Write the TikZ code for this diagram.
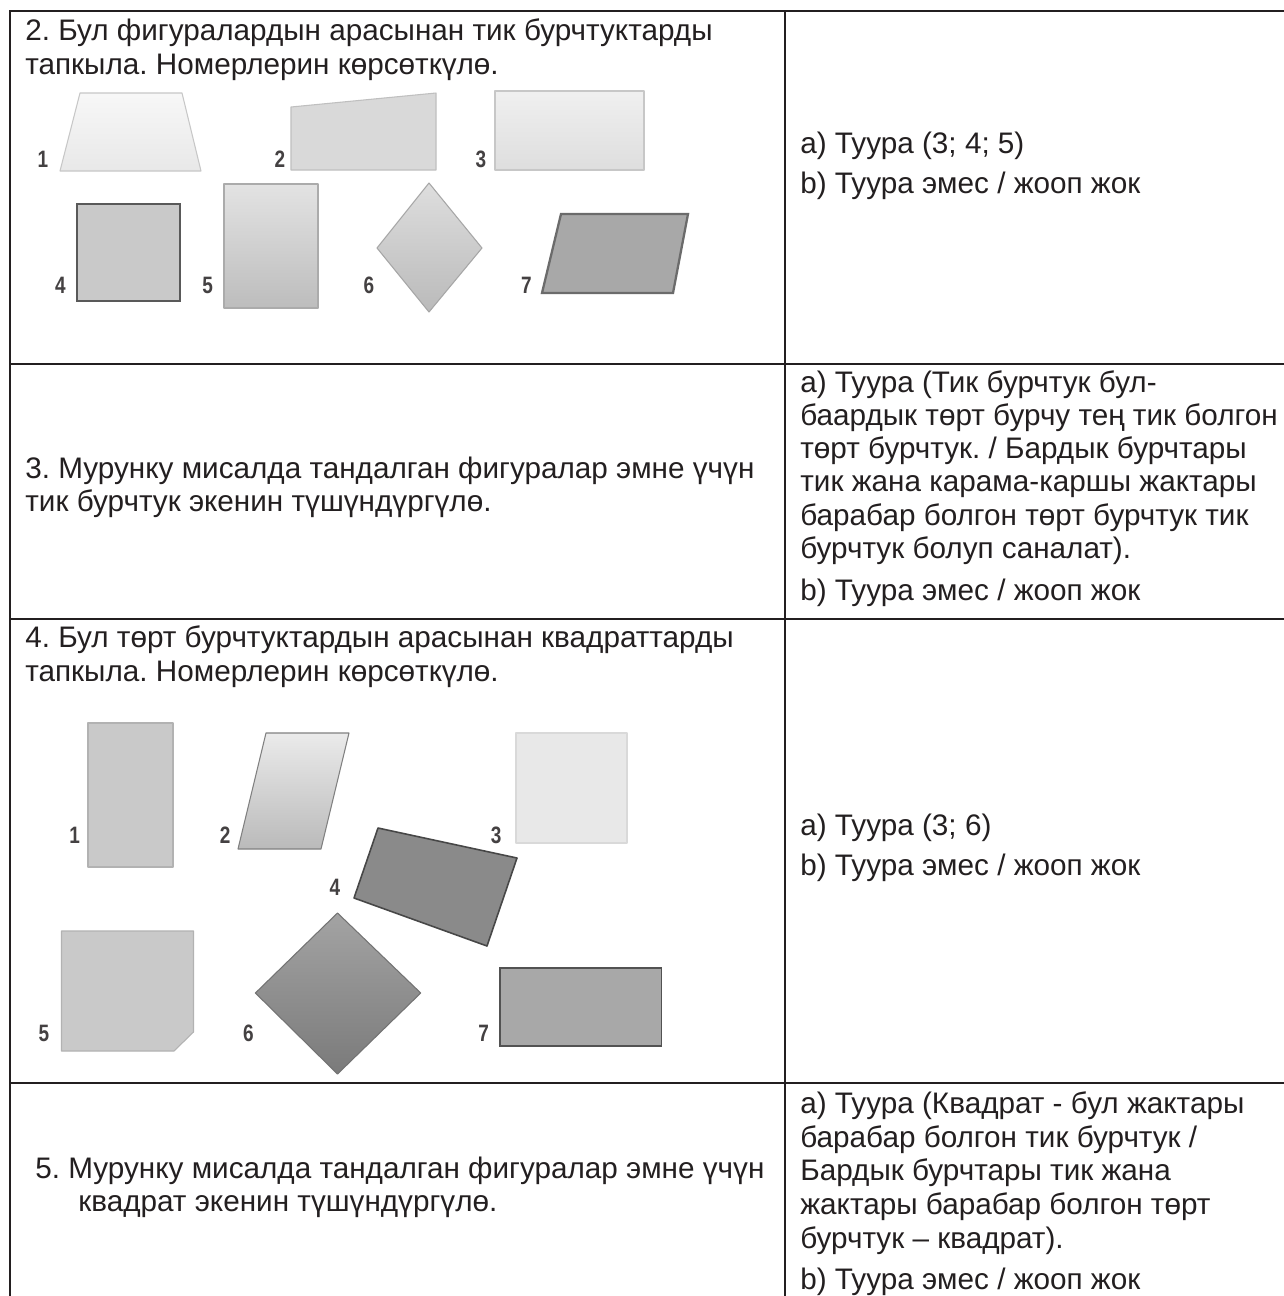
\documentclass[tikz,border=0pt]{standalone}
\usepackage{fontspec}
\setmainfont{Liberation Sans}
\newfontfamily\numfont[FakeStretch=0.8]{Liberation Sans}
\definecolor{ink}{HTML}{231F20}
\tikzset{
  txt/.style={anchor=base west, inner sep=0pt, text=ink, font=\frenchspacing\fontsize{16.9}{19}\selectfont},
  num/.style={anchor=base, inner sep=0pt, text=ink!85, font=\numfont\bfseries\fontsize{13.5}{15}\selectfont},
  grid/.style={line width=1.1pt, draw=ink},
  shp/.style={line width=0.6pt, line join=round},
}
\begin{document}
\begin{tikzpicture}[x=0.02cm, y=-0.02cm]
\useasboundingbox (0,0) rectangle (1284,1296);
\fill[white] (0,0) rectangle (1284,1296);

% ---- table grid ----
\coordinate (tl) at (10,11);
\coordinate (tr) at (1284,11);
\coordinate (bl) at (10,1296);
\coordinate (ct) at (785,11);
\coordinate (cb) at (785,1296);
\draw[grid] (tr) -- (tl) -- (bl);
\draw[grid] (ct) -- (cb);
\foreach \yy in {364,619,1083} \draw[grid] (10,\yy) -- (1284,\yy);

% ---- row 2 ----
\node[txt] (r2a) at (25,40) {2. Бул фигуралардын арасынан тик бурчтуктарды};
\node[txt] (r2b) at (25,74) {тапкыла. Номерлерин көрсөткүлө.};
\node[txt] (r2c) at (800,153) {а) Туура (3; 4; 5)};
\node[txt] (r2d) at (800,193) {b) Туура эмес / жооп жок};

\path[shp, draw=black!22, top color=black!3, bottom color=black!9] (80,93) -- (182,93) -- (201,171) -- (60,171) -- cycle;
\path[shp, draw=black!25, fill=black!15] (291,107) -- (436,93) -- (436,170) -- (291,170) -- cycle;
\path[shp, draw=black!22, top color=black!6, bottom color=black!13] (495,91) rectangle (644,170);
\path[line width=1.3pt, draw=black!65, fill=black!21] (77,204) rectangle (180,301);
\path[shp, draw=black!33, top color=black!11, bottom color=black!26] (224,184) rectangle (318,308);
\path[shp, draw=black!35, top color=black!13, bottom color=black!27] (429,183) -- (482,248) -- (429,312) -- (377,248) -- cycle;
\path[line width=1.3pt, draw=black!58, fill=black!34] (561,214) -- (688,214) -- (673,293) -- (542,293) -- cycle;

\node[num] (a1) at (43,167) {1};
\node[num] (a2) at (280,167) {2};
\node[num] (a3) at (481,167) {3};
\node[num] (a4) at (60.5,293) {4};
\node[num] (a5) at (207.6,293) {5};
\node[num] (a6) at (368.8,293) {6};
\node[num] (a7) at (526.4,293) {7};

% ---- row 3 ----
\node[txt] (r3a) at (25,478) {3. Мурунку мисалда тандалган фигуралар эмне үчүн};
\node[txt] (r3b) at (25,511) {тик бурчтук экенин түшүндүргүлө.};
\node[txt] (r3c) at (800,392) {а) Туура (Тик бурчтук бул-};
\node[txt] (r3d) at (800,425) {баардык төрт бурчу тең тик болгон};
\node[txt] (r3e) at (800,458) {төрт бурчтук. / Бардык бурчтары};
\node[txt] (r3f) at (800,491) {тик жана карама-каршы жактары};
\node[txt] (r3g) at (800,525) {барабар болгон төрт бурчтук тик};
\node[txt] (r3h) at (800,558) {бурчтук болуп саналат).};
\node[txt] (r3i) at (800,600) {b) Туура эмес / жооп жок};

% ---- row 4 ----
\node[txt] (r4a) at (25,647) {4. Бул төрт бурчтуктардын арасынан квадраттарды};
\node[txt] (r4b) at (25,681) {тапкыла. Номерлерин көрсөткүлө.};
\node[txt] (r4c) at (800,835) {а) Туура (3; 6)};
\node[txt] (r4d) at (800,875) {b) Туура эмес / жооп жок};

\path[shp, draw=black!30, fill=black!21] (88,723) rectangle (173,867);
\path[shp, draw=black!50, top color=black!8, bottom color=black!27] (266,733) -- (349,733) -- (321,849) -- (238,849) -- cycle;
\path[shp, draw=black!15, fill=black!9] (516,733) rectangle (627,843);
\path[shp, line width=0.9pt, draw=black!72, fill=black!46] (378,828) -- (517,858) -- (487,946) -- (354,898) -- cycle;
\path[shp, draw=black!30, fill=black!21] (61.5,931) -- (193.5,931) -- (193.5,1032) -- (174,1051) -- (61.5,1051) -- cycle;
\path[shp, draw=black!55, top color=black!36, bottom color=black!52] (337.5,913) -- (420.7,993) -- (337.5,1074) -- (255.4,993) -- cycle;
\path[line width=1.1pt, draw=black!68, fill=black!34] (500,968) rectangle (661.5,1046);

\node[num] (b1) at (74.6,843) {1};
\node[num] (b2) at (225.2,843) {2};
\node[num] (b3) at (496.2,843) {3};
\node[num] (b4) at (335,895) {4};
\node[num] (b5) at (43.8,1041) {5};
\node[num] (b6) at (248.4,1041) {6};
\node[num] (b7) at (483.6,1041) {7};

% ---- row 5 ----
\node[txt] (r5a) at (35,1178) {5. Мурунку мисалда тандалган фигуралар эмне үчүн};
\node[txt] (r5b) at (78,1211) {квадрат экенин түшүндүргүлө.};
\node[txt] (r5c) at (800,1113) {а) Туура (Квадрат - бул жактары};
\node[txt] (r5d) at (800,1147) {барабар болгон тик бурчтук /};
\node[txt] (r5e) at (800,1180) {Бардык бурчтары тик жана};
\node[txt] (r5f) at (800,1214) {жактары барабар болгон төрт};
\node[txt] (r5g) at (800,1248) {бурчтук – квадрат).};
\node[txt] (r5h) at (800,1289) {b) Туура эмес / жооп жок};
\end{tikzpicture}
\end{document}
